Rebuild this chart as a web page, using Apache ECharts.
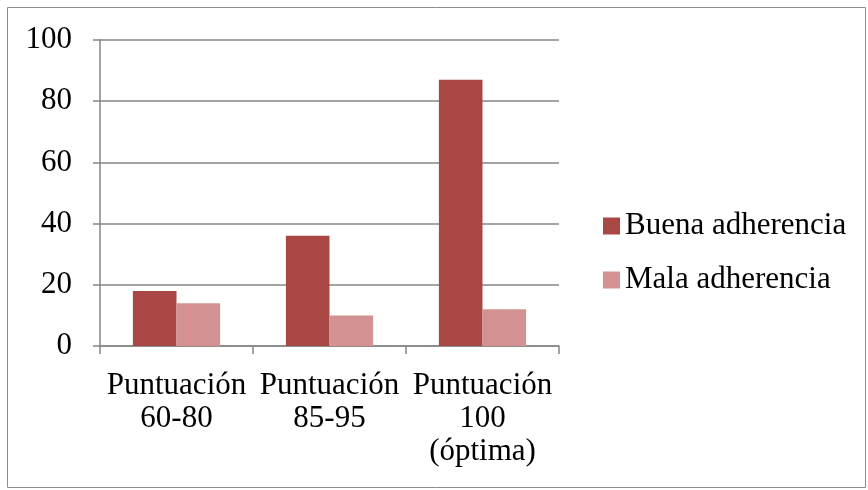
<!DOCTYPE html>
<html>
<head>
<meta charset="utf-8">
<script src="https://cdn.jsdelivr.net/npm/echarts@6/dist/echarts.min.js"></script>
<style>
  html, body { margin: 0; padding: 0; background: #fff; }
  #chart { width: 868px; height: 490px; }
</style>
</head>
<body>
<div id="chart"></div>
<script>
// Data
const categories = ['Puntuación\n60-80', 'Puntuación\n85-95', 'Puntuación\n100\n(óptima)']
const buena = [18, 36, 87]
const mala = [14, 10, 12]
const seriesNames = ['Buena adherencia', 'Mala adherencia']

const chart = echarts.init(document.getElementById('chart'))

const font = "'Liberation Serif', 'Times New Roman', serif"

const option = {
    animation: false,
    textStyle: { fontFamily: font },
    graphic: [
        {
            type: 'rect',
            shape: { x: 7.5, y: 7.5, width: 858, height: 480 },
            style: { fill: 'none', stroke: '#8c8c8c', lineWidth: 1 },
            silent: true
        }
    ],
    legend: {
        orient: 'vertical',
        left: 598,
        top: 204,
        itemWidth: 17,
        itemHeight: 17,
        itemGap: 20,
        icon: 'rect',
        textStyle: { fontFamily: font, fontSize: 31, lineHeight: 34, color: '#000' },
        data: seriesNames
    },
    grid: {
        left: 100,
        right: 309,
        top: 40,
        bottom: 144
    },
    xAxis: {
        type: 'category',
        data: categories,
        axisLine: { lineStyle: { color: '#868686', width: 1.5 } },
        axisTick: { show: true, length: 8, lineStyle: { color: '#868686', width: 1.5 } },
        axisLabel: {
            fontFamily: font,
            fontSize: 31,
            color: '#000',
            lineHeight: 33,
            margin: 23,
            interval: 0
        }
    },
    yAxis: {
        type: 'value',
        min: 0,
        max: 100,
        interval: 20,
        axisLine: { show: true, lineStyle: { color: '#868686', width: 1.5 } },
        axisTick: { show: true, inside: false, length: 7, lineStyle: { color: '#868686', width: 1.5 } },
        splitLine: { lineStyle: { color: '#868686', width: 1.5 } },
        axisLabel: {
            fontFamily: font,
            fontSize: 31,
            color: '#000',
            margin: 28
        }
    },
    series: [
        {
            name: seriesNames[0],
            type: 'bar',
            data: buena,
            barGap: '0%',
            barCategoryGap: '43%',
            itemStyle: { color: '#A94745' }
        },
        {
            name: seriesNames[1],
            type: 'bar',
            data: mala,
            itemStyle: { color: '#D39291' }
        }
    ]
}

chart.setOption(option)
</script>
</body>
</html>
